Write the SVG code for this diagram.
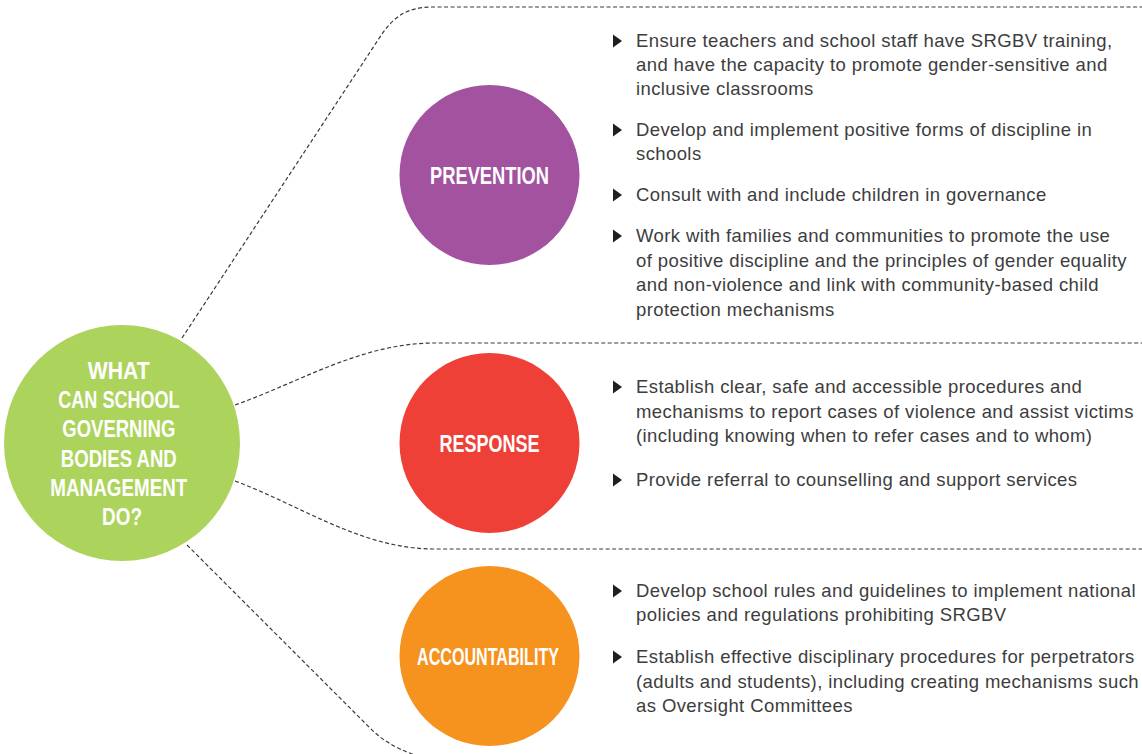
<svg xmlns="http://www.w3.org/2000/svg" width="1142" height="754" viewBox="0 0 1142 754">
<style>
.bg{fill:#ffffff}
.conn{fill:none;stroke:#3a3a3a;stroke-width:1.2;stroke-dasharray:4 2.5}
.lbl{font-family:"Liberation Sans",Arial,sans-serif;font-weight:bold;fill:#ffffff;text-anchor:middle}
.txt{font-family:"Liberation Sans",Arial,sans-serif;font-size:18.5px;letter-spacing:0.4px;fill:#3d3d3d}
.bul{fill:#231f20}
</style>
<defs>
<path id="tri" d="M0,-6.5 L9,0 L0,6.5 Z"/>
</defs>
<rect class="bg" x="0" y="0" width="1142" height="754"/>
<g id="connectors">
<path class="conn" d="M182,338 L378,40 C392,18 405,7 433,7 L1142,7"/>
<path class="conn" d="M235,405 C300,382 360,344 432,343 L1142,343"/>
<path class="conn" d="M235,481 C300,505 360,548 432,549 L1142,549"/>
<path class="conn" d="M187,545 L370,728 C382,740 395,748 415,755"/>
</g>
<g id="node-main">
<circle cx="122" cy="443" r="118" fill="#acd35c"/>
<text class="lbl" font-size="23">
<tspan x="122" y="379" textLength="62" lengthAdjust="spacingAndGlyphs">WHAT</tspan>
<tspan x="122" y="408" textLength="121" lengthAdjust="spacingAndGlyphs">CAN SCHOOL</tspan>
<tspan x="122" y="437" textLength="113" lengthAdjust="spacingAndGlyphs">GOVERNING</tspan>
<tspan x="122" y="467" textLength="116" lengthAdjust="spacingAndGlyphs">BODIES AND</tspan>
<tspan x="122" y="496" textLength="137" lengthAdjust="spacingAndGlyphs">MANAGEMENT</tspan>
<tspan x="122" y="525" textLength="40" lengthAdjust="spacingAndGlyphs">DO?</tspan>
</text>
</g>
<g id="node-prevention">
<circle cx="489.5" cy="175" r="90" fill="#a2529e"/>
<text class="lbl" font-size="23" x="489.5" y="184" textLength="119" lengthAdjust="spacingAndGlyphs">PREVENTION</text>
</g>
<g id="node-response">
<circle cx="489.5" cy="443" r="90" fill="#ee4037"/>
<text class="lbl" font-size="23" x="489.5" y="452" textLength="100" lengthAdjust="spacingAndGlyphs">RESPONSE</text>
</g>
<g id="node-accountability">
<circle cx="489.5" cy="656" r="90" fill="#f6921e"/>
<text class="lbl" font-size="23" x="488" y="665" textLength="142" lengthAdjust="spacingAndGlyphs">ACCOUNTABILITY</text>
</g>
<g id="prevention-list">
<use href="#tri" class="bul" x="613" y="41"/>
<use href="#tri" class="bul" x="613" y="130"/>
<use href="#tri" class="bul" x="613" y="195"/>
<use href="#tri" class="bul" x="613" y="236"/>
<text class="txt">
<tspan x="636" y="47">Ensure teachers and school staff have SRGBV training,</tspan>
<tspan x="636" y="71">and have the capacity to promote gender-sensitive and</tspan>
<tspan x="636" y="95">inclusive classrooms</tspan>
<tspan x="636" y="136">Develop and implement positive forms of discipline in</tspan>
<tspan x="636" y="160">schools</tspan>
<tspan x="636" y="201">Consult with and include children in governance</tspan>
<tspan x="636" y="242">Work with families and communities to promote the use</tspan>
<tspan x="636" y="266.5">of positive discipline and the principles of gender equality</tspan>
<tspan x="636" y="291">and non-violence and link with community-based child</tspan>
<tspan x="636" y="316">protection mechanisms</tspan>
</text>
</g>
<g id="response-list">
<use href="#tri" class="bul" x="613" y="387"/>
<use href="#tri" class="bul" x="613" y="480"/>
<text class="txt">
<tspan x="636" y="393">Establish clear, safe and accessible procedures and</tspan>
<tspan x="636" y="417.5">mechanisms to report cases of violence and assist victims</tspan>
<tspan x="636" y="442">(including knowing when to refer cases and to whom)</tspan>
<tspan x="636" y="486">Provide referral to counselling and support services</tspan>
</text>
</g>
<g id="accountability-list">
<use href="#tri" class="bul" x="613" y="591"/>
<use href="#tri" class="bul" x="613" y="657"/>
<text class="txt">
<tspan x="636" y="597">Develop school rules and guidelines to implement national</tspan>
<tspan x="636" y="621">policies and regulations prohibiting SRGBV</tspan>
<tspan x="636" y="663">Establish effective disciplinary procedures for perpetrators</tspan>
<tspan x="636" y="687.5">(adults and students), including creating mechanisms such</tspan>
<tspan x="636" y="712">as Oversight Committees</tspan>
</text>
</g>
</svg>
